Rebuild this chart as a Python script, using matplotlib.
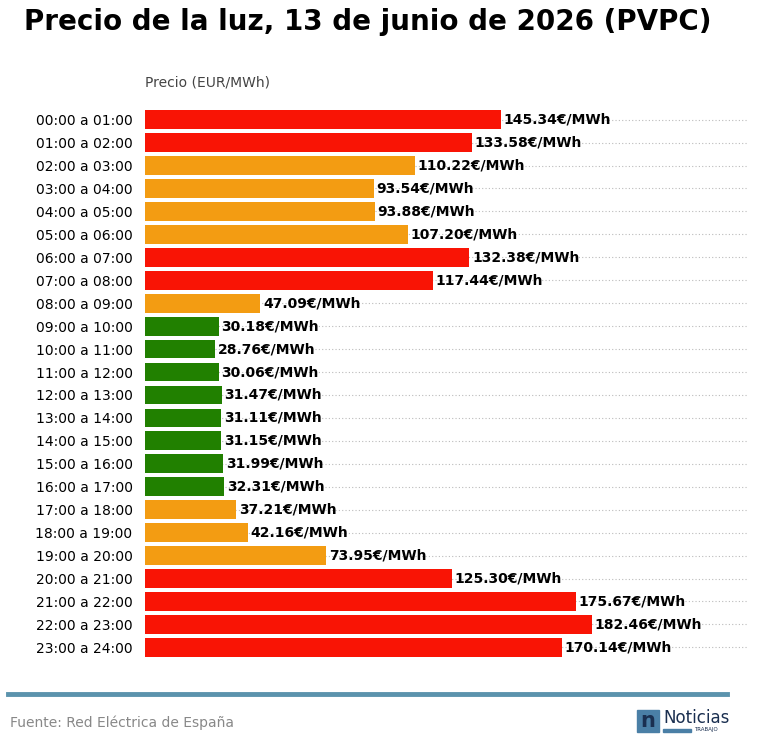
import matplotlib
matplotlib.use("Agg")
import matplotlib.pyplot as plt
from matplotlib.patches import Rectangle

hours = [f"{h:02d}:00 a {h+1:02d}:00" for h in range(24)]
prices = [145.34,133.58,110.22,93.54,93.88,107.20,132.38,117.44,47.09,30.18,28.76,30.06,
          31.47,31.11,31.15,31.99,32.31,37.21,42.16,73.95,125.30,175.67,182.46,170.14]
levels = ['r','r','o','o','o','o','r','r','o','g','g','g','g','g','g','g','g','o','o','o','r','r','r','r']
cmap = {'r':'#f91405','o':'#f39c12','g':'#218000'}

W,H = 758,755
fig = plt.figure(figsize=(W/100,H/100), dpi=100)
ax = fig.add_axes([145/W, 1-660/H, 603/W, (660-107)/H])
y = list(range(24))
ax.barh(y, prices, height=0.82, color=[cmap[l] for l in levels], zorder=2)
ax.set_ylim(23.55, -0.55)
ax.set_xlim(0, 246)
ax.set_yticks(y)
ax.set_yticklabels(hours, fontsize=10)
ax.tick_params(axis='y', length=0, pad=9)
ax.set_xticks([])
for s in ax.spines.values(): s.set_visible(False)
for yi in y:
    ax.axhline(yi, color='#bbbbbb', lw=0.8, ls=(0,(1,2)), zorder=1)
for yi,p in zip(y,prices):
    ax.text(p+1, yi, f"{p:.2f}€/MWh", va='center', ha='left', fontsize=10, fontweight='bold')
fig.text(24/W, 1-22/H, "Precio de la luz, 13 de junio de 2026 (PVPC)", fontsize=20, fontweight='bold', va='center')
fig.text(145/W, 1-82/H, "Precio (EUR/MWh)", fontsize=10, color='#444444', va='center')
fig.add_artist(plt.Line2D([8/W, 727/W], [1-694/H, 1-694/H], color='#5b93ad', lw=3.5))
fig.text(10/W, 1-723/H, "Fuente: Red Eléctrica de España", fontsize=10, color='#888888', va='center')
fig.add_artist(Rectangle((637/W, 1-732/H), 22/W, 22/H, transform=fig.transFigure, color='#4a7fa6'))
fig.text(648/W, 1-721/H, "n", fontsize=15, color='#1a2f50', ha='center', va='center', fontweight='bold')
fig.text(663/W, 1-718/H, "Noticias", fontsize=12, color='#1a2f50', va='center')
fig.add_artist(Rectangle((663/W, 1-732/H), 28/W, 3/H, transform=fig.transFigure, color='#4a7fa6'))
fig.text(694/W, 1-730/H, "TRABAJO", fontsize=4, color='#1a2f50', va='center')
fig.savefig("out.png", dpi=100)
